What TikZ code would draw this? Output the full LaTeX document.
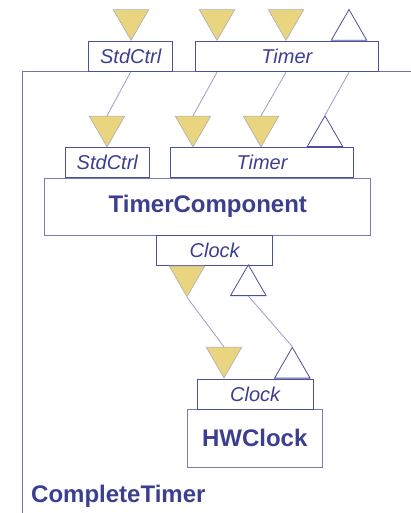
\documentclass[tikz,border=0pt]{standalone}
\usepackage{fontspec}
\setmainfont{Liberation Sans}
\usetikzlibrary{shapes.geometric,positioning}
\definecolor{txtblue}{HTML}{3C3F8F}
\definecolor{boxblue}{HTML}{4B509A}
\definecolor{wireblue}{HTML}{9A9EC8}
\definecolor{usesfill}{HTML}{E9D47F}
\definecolor{usesdraw}{HTML}{ADABB6}

\begin{document}
\begin{tikzpicture}[x=1pt,y=-1pt,
port/.style={rectangle, draw=boxblue, line width=1pt, fill=white, inner sep=0pt,
minimum height=30pt, text=txtblue, font=\fontsize{20}{24}\selectfont\itshape},
comp/.style={rectangle, draw=boxblue!75, line width=1pt, fill=white, inner sep=0pt,
text=txtblue, font=\fontsize{24}{28}\selectfont\bfseries},
uses/.style={regular polygon, regular polygon sides=3, shape border rotate=180,
inner sep=0pt, minimum size=41pt, fill=usesfill, draw=usesdraw, line width=0.6pt},
provides/.style={regular polygon, regular polygon sides=3,
inner sep=0pt, minimum size=41pt, fill=white, draw=boxblue, line width=0.8pt},
wire/.style={draw=wireblue, line width=0.8pt}]

\useasboundingbox (0,0) rectangle (411,513);

% CompleteTimer frame
\draw[draw=boxblue!80, line width=1pt] (411,71.3) -| (22.3,513);

% outer interfaces
\node[port, minimum width=84pt] at (130.7,56.3) (stdA) {StdCtrl};
\node[port, minimum width=183pt] at (286.8,56.8) (timerA) {Timer};

\node[uses, anchor=corner 1] at (131,41) (stdAin) {};
\node[uses, anchor=corner 1] at (217,41) (timerAin1) {};
\node[uses, anchor=corner 1] at (286,41) (timerAin2) {};
\node[provides, anchor=side 2] at (349,40.7) (timerAout) {};

% TimerComponent
\node[comp, minimum width=326pt, minimum height=57pt] at (207.8,206.7) (timerComp) {TimerComponent};
\node[port, minimum width=84pt] at (107.3,162.7) (stdB) {StdCtrl};
\node[port, minimum width=183pt] at (262,162.7) (timerB) {Timer};
\node[port, minimum width=116pt] at (214.7,250.5) (clockA) {Clock};

\node[uses, anchor=corner 1] at (107,147.5) (stdBin) {};
\node[uses, anchor=corner 1] at (193,147.5) (timerBin1) {};
\node[uses, anchor=corner 1] at (261,147.5) (timerBin2) {};
\node[provides, anchor=side 2] at (325,147) (timerBout) {};

\node[uses, anchor=side 2] at (187,265.7) (clockAin) {};
\node[provides, anchor=side 2] at (248.3,296) (clockAout) {};

% HWClock
\node[comp, minimum width=135pt, minimum height=58pt] at (254.7,438.3) (hwClock) {HWClock};
\node[port, minimum width=116pt] at (255.2,394.2) (clockB) {Clock};

\node[uses, anchor=corner 1] at (224,378.5) (clockBin) {};
\node[provides, anchor=side 2] at (292.3,378.5) (clockBout) {};

\node[anchor=base west, inner sep=0pt, text=txtblue,
font=\fontsize{24}{28}\selectfont\bfseries] at (31,502.7) (completeTimer) {CompleteTimer};

% wiring
\draw[wire] (stdA.south) -- (stdBin.side 2);
\draw[wire] (timerAin1 |- timerA.south) -- (timerBin1.side 2);
\draw[wire] (timerAin2 |- timerA.south) -- (timerBin2.side 2);
\draw[wire] (timerAout |- timerA.south) -- (timerBout.corner 1);
\draw[wire] (clockAin.corner 1) -- (clockBin.side 2);
\draw[wire] (clockAout.side 2) -- (clockBout.corner 1);

\end{tikzpicture}
\end{document}
